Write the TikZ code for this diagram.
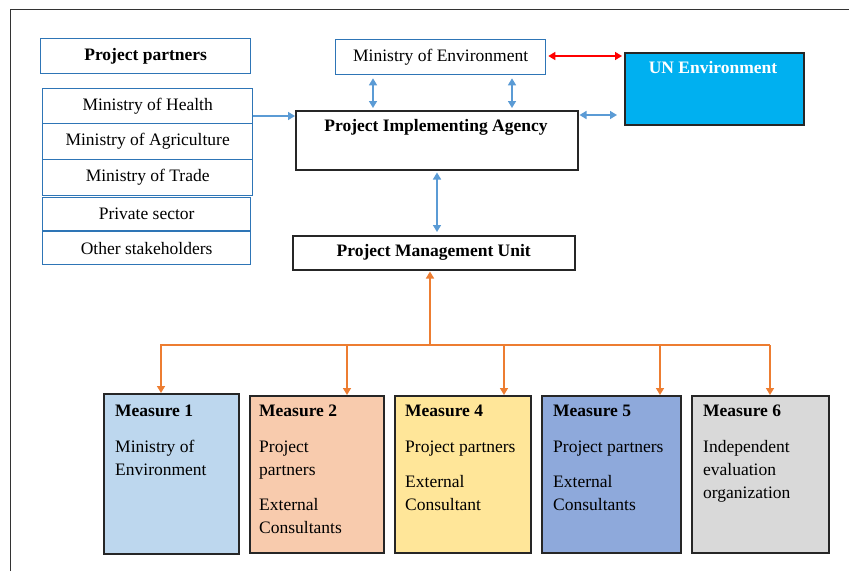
\documentclass[tikz,border=0pt]{standalone}
\usepackage{fontspec}
\setmainfont{Liberation Serif}
\usetikzlibrary{arrows.meta,calc}
\definecolor{bluebd}{HTML}{2E75B6}
\definecolor{bluear}{HTML}{5B9BD5}
\definecolor{orangear}{HTML}{ED7D31}
\definecolor{unfill}{HTML}{00B0F0}
\definecolor{mone}{HTML}{BDD7EE}
\definecolor{mtwo}{HTML}{F8CBAD}
\definecolor{mfour}{HTML}{FFE699}
\definecolor{mfive}{HTML}{8EA9DB}
\definecolor{msix}{HTML}{D9D9D9}
\tikzset{
  pbox/.style={draw=bluebd, line width=1.3pt, fill=white, inner sep=0pt, anchor=north west,
    font=\fontsize{17.5}{23}\selectfont},
  kbox/.style={draw=black!85, line width=1.5pt, inner sep=0pt, anchor=north west},
  txt/.style={font=\fontsize{17.5}{23}\selectfont, inner sep=0pt},
  mtxt/.style={txt, anchor=north west, align=left},
  bluearrow/.style={draw=bluear, line width=1.5pt, {Triangle[width=8pt,length=7pt]}-{Triangle[width=8pt,length=7pt]}},
  bluesingle/.style={draw=bluear, line width=1.5pt, -{Triangle[width=8pt,length=7pt]}},
  redarrow/.style={draw=red, line width=1.5pt, {Triangle[width=8pt,length=7pt]}-{Triangle[width=8pt,length=7pt]}},
  orangeline/.style={draw=orangear, line width=1.5pt},
  orangearrow/.style={draw=orangear, line width=1.5pt, -{Triangle[width=8pt,length=7pt]}},
}
\begin{document}
\begin{tikzpicture}[x=1pt,y=-1pt]
\useasboundingbox (0,0) rectangle (849,571);
% outer frame
\draw[black!80, line width=1pt] (10,571) -- (10,9.5) -- (849,9.5);

% left partner boxes
\node[pbox, minimum width=210pt, minimum height=35pt] (pp) at (40,38) {\bfseries Project partners};
\node[pbox, minimum width=210pt, minimum height=35pt] (mh) at (42,88) {Ministry of Health};
\node[pbox, minimum width=210pt, minimum height=36pt] (ma) at (42,123) {Ministry of Agriculture};
\node[pbox, minimum width=210pt, minimum height=36pt] (mt) at (42,159) {Ministry of Trade};
\node[pbox, minimum width=208pt, minimum height=33pt] (ps) at (42,197) {Private sector};
\node[pbox, minimum width=208pt, minimum height=33pt] (os) at (42,231) {Other stakeholders};

% top boxes
\node[pbox, minimum width=210pt, minimum height=35pt] (moe) at (335,39) {Ministry of Environment};
\node[kbox, fill=unfill, minimum width=179pt, minimum height=72pt] (un) at (624,52) {};
\node[txt, text=white, font=\fontsize{17.5}{23}\selectfont\bfseries] (untxt) at (713,68) {UN Environment};
\node[kbox, fill=white, minimum width=282pt, minimum height=59pt] (pia) at (295,110) {};
\node[txt, font=\fontsize{17.5}{23}\selectfont\bfseries] (piatxt) at (436,127) {Project Implementing Agency};
\node[kbox, fill=white, minimum width=282pt, minimum height=34pt, font=\fontsize{17.5}{23}\selectfont\bfseries] (pmu) at (292,235) {Project Management Unit};

% measure boxes
\node[kbox, fill=mone, minimum width=135pt, minimum height=160pt] (m1) at (103,393) {};
\node[kbox, fill=mtwo, minimum width=134pt, minimum height=157pt] (m2) at (249,395) {};
\node[kbox, fill=mfour, minimum width=136pt, minimum height=157pt] (m4) at (394,395) {};
\node[kbox, fill=mfive, minimum width=139pt, minimum height=157pt] (m5) at (541,395) {};
\node[kbox, fill=msix, minimum width=137pt, minimum height=157pt] (m6) at (691,395) {};

\node[mtxt] (t1) at ([shift={(12,12)}]m1.north west) {\bfseries Measure 1\\[13pt]Ministry of\\Environment};
\node[mtxt] (t2) at ([shift={(10,10)}]m2.north west) {\bfseries Measure 2\\[13pt]Project\\partners\\[12pt]External\\Consultants};
\node[mtxt] (t4) at ([shift={(11,10)}]m4.north west) {\bfseries Measure 4\\[13pt]Project partners\\[12pt]External\\Consultant};
\node[mtxt] (t5) at ([shift={(12,10)}]m5.north west) {\bfseries Measure 5\\[13pt]Project partners\\[12pt]External\\Consultants};
\node[mtxt] (t6) at ([shift={(12,10)}]m6.north west) {\bfseries Measure 6\\[13pt]Independent\\evaluation\\organization};

% connectors
\draw[bluesingle] ([yshift=-28]mh.north east) -- ([yshift=-28]mh.north east -| pia.west);
\draw[bluearrow, shorten <=3pt, shorten >=2pt] ([xshift=38]moe.south west) -- ([xshift=38]moe.south west |- pia.north);
\draw[bluearrow, shorten <=3pt, shorten >=2pt] ([xshift=177]moe.south west) -- ([xshift=177]moe.south west |- pia.north);
\draw[bluearrow, shorten <=1pt, shorten >=7pt] ([yshift=-5]pia.north east) -- ([yshift=-5]pia.north east -| un.west);
\draw[redarrow, shorten <=2pt, shorten >=2pt] ([yshift=-17]moe.north east) -- ([yshift=-17]moe.north east -| un.west);
\draw[bluearrow, shorten <=2pt, shorten >=3pt] ([xshift=142]pia.south west) -- ([xshift=142]pia.south west |- pmu.north);

\coordinate (busl) at (160,345);
\coordinate (busr) at (770,345);
\draw[orangeline] (busl) -- (busr);
\draw[orangearrow, shorten >=1pt] ([xshift=138]pmu.south west |- busl) -- ([xshift=138]pmu.south west);
\draw[orangearrow] ([xshift=58]m1.north west |- busl) -- ([xshift=58]m1.north west);
\draw[orangearrow] ([xshift=98]m2.north west |- busl) -- ([xshift=98]m2.north west);
\draw[orangearrow] ([xshift=110]m4.north west |- busl) -- ([xshift=110]m4.north west);
\draw[orangearrow] ([xshift=119]m5.north west |- busl) -- ([xshift=119]m5.north west);
\draw[orangearrow] ([xshift=79]m6.north west |- busl) -- ([xshift=79]m6.north west);
\end{tikzpicture}
\end{document}
